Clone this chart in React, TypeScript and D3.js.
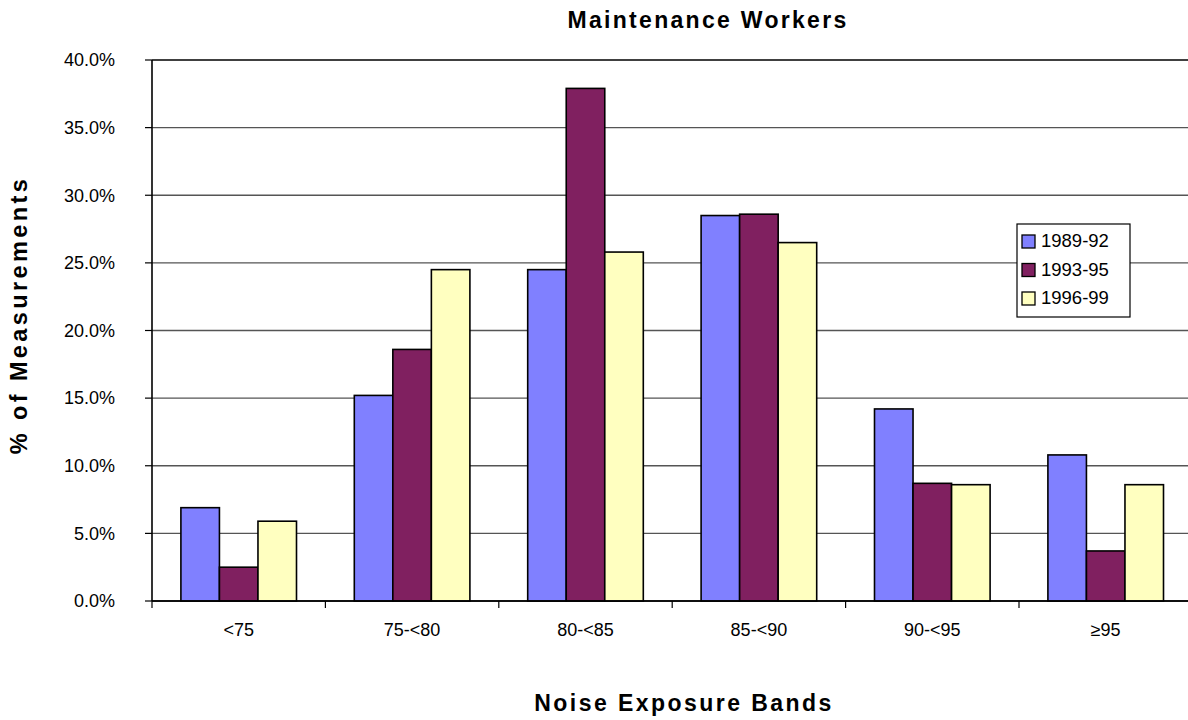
import * as d3 from "d3";

// Bandes d'exposition et séries
const BANDS = ["<75", "75-<80", "80-<85", "85-<90", "90-<95", "≥95"];
const SERIES = ["1989-92", "1993-95", "1996-99"];
const VALUES_1989_92 = [6.9, 15.2, 24.5, 28.5, 14.2, 10.8];
const VALUES_1993_95 = [2.5, 18.6, 37.9, 28.6, 8.7, 3.7];
const VALUES_1996_99 = [5.9, 24.5, 25.8, 26.5, 8.6, 8.6];
const Y_TICKS = [0, 5, 10, 15, 20, 25, 30, 35, 40];

const COLORS = ["#8080FF", "#802060", "#FFFFC0"];
const FONT = "'Liberation Sans', Arial, sans-serif";

const W = 1188;
const H = 720;
const margin = { left: 152, top: 60, plotRight: 1192.4, bottom: 601 };

export default function App() {
  const allValues = [VALUES_1989_92, VALUES_1993_95, VALUES_1996_99];

  const x = d3.scaleBand<string>().domain(BANDS).range([margin.left, margin.plotRight]);
  const bw = x.bandwidth();
  // gap width 150% -> barre = bw / 4.5
  const barW = bw / 4.5;
  const groupOffset = (bw - barW * 3) / 2;

  const y = d3.scaleLinear().domain([0, 40]).range([margin.bottom, margin.top]);

  return (
    <svg
      width={W}
      height={H}
      style={{ position: "absolute", left: 0, top: 0, background: "#fff" }}
      fontFamily={FONT}
    >
      {/* Grille horizontale */}
      {Y_TICKS.map((t) => (
        <line
          key={`g${t}`}
          x1={margin.left}
          x2={margin.plotRight}
          y1={y(t)}
          y2={y(t)}
          stroke={t === 40 || t === 0 ? "#000" : "#555"}
          strokeWidth={1.3}
        />
      ))}

      {/* Barres */}
      {BANDS.map((band, i) =>
        allValues.map((vals, s) => {
          const bx = (x(band) ?? 0) + groupOffset + s * barW;
          return (
            <rect
              key={`${band}-${s}`}
              x={bx}
              y={y(vals[i])}
              width={barW}
              height={y(0) - y(vals[i])}
              fill={COLORS[s]}
              stroke="#000"
              strokeWidth={1.6}
            />
          );
        })
      )}

      {/* Axe Y */}
      <line x1={margin.left} x2={margin.left} y1={margin.top} y2={margin.bottom} stroke="#000" strokeWidth={1.6} />
      {Y_TICKS.map((t) => (
        <g key={`yt${t}`}>
          <line x1={margin.left - 7} x2={margin.left} y1={y(t)} y2={y(t)} stroke="#000" strokeWidth={1.2} />
          <text x={115} y={y(t)} dy="0.35em" textAnchor="end" fontSize={18} fill="#000">
            {t.toFixed(1)}%
          </text>
        </g>
      ))}

      {/* Axe X */}
      <line x1={margin.left} x2={margin.plotRight} y1={margin.bottom} y2={margin.bottom} stroke="#000" strokeWidth={1.6} />
      {BANDS.map((band) => (
        <line
          key={`xt${band}`}
          x1={x(band) ?? 0}
          x2={x(band) ?? 0}
          y1={margin.bottom}
          y2={margin.bottom + 7}
          stroke="#000"
          strokeWidth={1.2}
        />
      ))}
      {BANDS.map((band) => (
        <text
          key={`xl${band}`}
          x={(x(band) ?? 0) + bw / 2}
          y={630}
          dy="0.35em"
          textAnchor="middle"
          fontSize={18}
          fill="#000"
        >
          {band}
        </text>
      ))}

      {/* Titres */}
      <text x={708} y={20} dy="0.35em" textAnchor="middle" fontSize={23} fontWeight="bold" letterSpacing={2.3}>
        Maintenance Workers
      </text>
      <text x={684} y={703} dy="0.35em" textAnchor="middle" fontSize={23} fontWeight="bold" letterSpacing={2.45}>
        Noise Exposure Bands
      </text>
      <text
        transform={`translate(19, 315) rotate(-90)`}
        dy="0.35em"
        textAnchor="middle"
        fontSize={23.5}
        fontWeight="bold"
        letterSpacing={3.4}
      >
        % of Measurements
      </text>

      {/* Légende */}
      <g>
        <rect x={1017} y={224} width={113} height={93} fill="#fff" stroke="#000" strokeWidth={1.2} />
        {SERIES.map((s, i) => (
          <g key={s}>
            <rect x={1022} y={235 + i * 28.5} width={13} height={13} fill={COLORS[i]} stroke="#000" strokeWidth={1.3} />
            <text x={1041} y={241 + i * 28.5} dy="0.35em" fontSize={18.5} fill="#000">
              {s}
            </text>
          </g>
        ))}
      </g>
    </svg>
  );
}
